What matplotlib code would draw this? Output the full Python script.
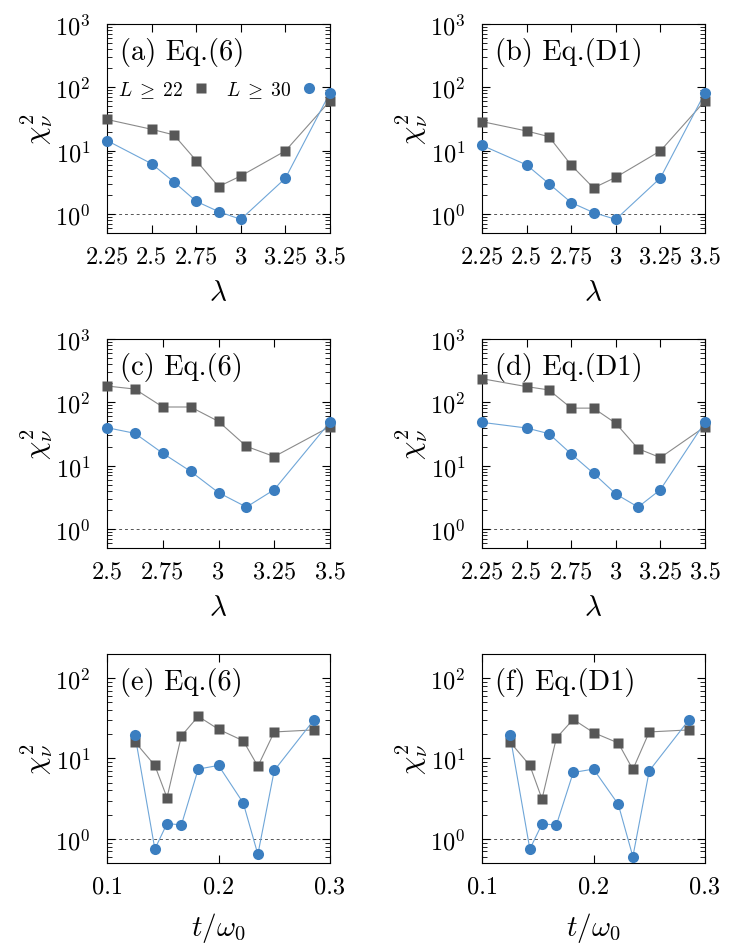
import numpy as np
import matplotlib
matplotlib.use('Agg')
import matplotlib.pyplot as plt
from matplotlib.ticker import LogLocator, NullFormatter, FixedLocator, FuncFormatter

plt.rcParams['font.family'] = 'serif'
plt.rcParams['font.serif'] = ['cmr10']
plt.rcParams['mathtext.fontset'] = 'cm'
plt.rcParams['axes.formatter.use_mathtext'] = True
plt.rcParams['axes.unicode_minus'] = False

# lambda scans (rows 1 and 2)
lam_a = [2.25, 2.5, 2.625, 2.75, 2.875, 3.0, 3.25, 3.5]
sq_a = [31, 21.7, 17.7, 6.95, 2.7, 3.98, 9.9, 61]
ci_a = [14.4, 6.2, 3.2, 1.58, 1.09, 0.82, 3.66, 82]

lam_b = [2.25, 2.5, 2.625, 2.75, 2.875, 3.0, 3.25, 3.5]
sq_b = [28.7, 20.4, 16.6, 5.9, 2.57, 3.79, 9.9, 61]
ci_b = [12.1, 5.94, 3.01, 1.51, 1.05, 0.82, 3.7, 82]

lam_c = [2.5, 2.625, 2.75, 2.875, 3.0, 3.125, 3.25, 3.5]
sq_c = [181, 162, 84.4, 84.4, 50, 20.2, 13.9, 41.3]
ci_c = [39.8, 32.4, 15.7, 8.13, 3.75, 2.22, 4.18, 48.9]

lam_d = [2.25, 2.5, 2.625, 2.75, 2.875, 3.0, 3.125, 3.25, 3.5]
sq_d = [236, 177, 157, 81, 81, 46.6, 18.5, 13.4, 41.3]
ci_d = [48.3, 39.3, 32, 15.3, 7.57, 3.57, 2.22, 4.18, 48.9]

# t/omega0 scans (row 3)
t_ef = [0.125, 0.1429, 0.1538, 0.1667, 0.1818, 0.2, 0.2222, 0.2353, 0.25, 0.2857]
sq_e = [16.1, 8.2, 3.25, 19.1, 33.5, 23.1, 16.6, 8.0, 21.4, 22.7]
ci_e = [19.8, 0.745, 1.55, 1.49, 7.38, 8.2, 2.79, 0.64, 7.1, 30.4]
sq_f = [16.1, 8.2, 3.13, 18.0, 30.7, 21.0, 15.6, 7.3, 21.4, 22.7]
ci_f = [19.8, 0.745, 1.53, 1.49, 6.7, 7.38, 2.69, 0.6, 7.03, 30.4]

panels = [
    ('(a) Eq.(6)', lam_a, sq_a, ci_a, [2.25, 2.5, 2.75, 3, 3.25, 3.5], (2.25, 3.5), (0.5, 1000), r'$\lambda$'),
    ('(b) Eq.(D1)', lam_b, sq_b, ci_b, [2.25, 2.5, 2.75, 3, 3.25, 3.5], (2.25, 3.5), (0.5, 1000), r'$\lambda$'),
    ('(c) Eq.(6)', lam_c, sq_c, ci_c, [2.5, 2.75, 3, 3.25, 3.5], (2.5, 3.5), (0.5, 1000), r'$\lambda$'),
    ('(d) Eq.(D1)', lam_d, sq_d, ci_d, [2.25, 2.5, 2.75, 3, 3.25, 3.5], (2.25, 3.5), (0.5, 1000), r'$\lambda$'),
    ('(e) Eq.(6)', t_ef, sq_e, ci_e, [0.1, 0.2, 0.3], (0.1, 0.3), (0.5, 200), r'$t/\omega_0$'),
    ('(f) Eq.(D1)', t_ef, sq_f, ci_f, [0.1, 0.2, 0.3], (0.1, 0.3), (0.5, 200), r'$t/\omega_0$'),
]

sq_color = '#575757'
ci_color = '#3b7ec0'

fig = plt.figure(figsize=(7.5, 9.45), dpi=100)
lefts = [0.1427, 0.6427]
bottoms = [0.7524, 0.419, 0.0857]

for i, (label, x, sq, ci, xt, xl, yl, xlab) in enumerate(panels):
    ax = fig.add_axes([lefts[i % 2], bottoms[i // 2], 0.2973, 0.2212])
    ax.plot(x, sq, '-', color='#8a8a8a', lw=0.8, zorder=2)
    ax.plot(x, ci, '-', color='#6fa6d8', lw=0.8, zorder=2)
    ax.plot(x, sq, 's', color=sq_color, ms=7.5, mec='none', clip_on=False, zorder=3,
            label=r'$L \;\geq\; 22$')
    ax.plot(x, ci, 'o', color=ci_color, ms=8, mec='none', clip_on=False, zorder=4,
            label=r'$L \;\geq\; 30$')
    ax.axhline(1.0, color='#555555', lw=0.7, ls=(0, (3, 3)), zorder=1)
    ax.set_yscale('log')
    ax.set_xlim(*xl)
    ax.set_ylim(*yl)
    ax.xaxis.set_major_locator(FixedLocator(xt))
    ax.xaxis.set_major_formatter(FuncFormatter(lambda v, p: '%g' % v))
    ax.yaxis.set_major_locator(LogLocator(base=10, numticks=10))
    ax.yaxis.set_minor_locator(LogLocator(base=10, subs=np.arange(2, 10), numticks=10))
    ax.yaxis.set_minor_formatter(NullFormatter())
    ax.tick_params(which='both', direction='in', top=True, right=True, labelsize=17.5)
    ax.tick_params(axis='x', pad=9)
    ax.tick_params(axis='y', pad=12)
    ax.tick_params(which='major', length=6, width=0.8)
    ax.tick_params(which='minor', length=3.5, width=0.6)
    for s in ax.spines.values():
        s.set_linewidth(0.8)
    ax.set_ylabel(r'$\chi^2_\nu$', fontsize=21, labelpad=0)
    ax.set_xlabel(xlab, fontsize=21, labelpad=9)
    ax.text(0.058, 0.87, label, transform=ax.transAxes, fontsize=20.5, va='center', ha='left')
    if i == 0:
        ax.legend(loc='center left', bbox_to_anchor=(-0.01, 0.685), ncol=2, markerfirst=False,
                  frameon=False, fontsize=14, handlelength=0.6, handletextpad=0.6,
                  columnspacing=1.0, borderpad=0.2)

fig.savefig('out.png', dpi=100)
